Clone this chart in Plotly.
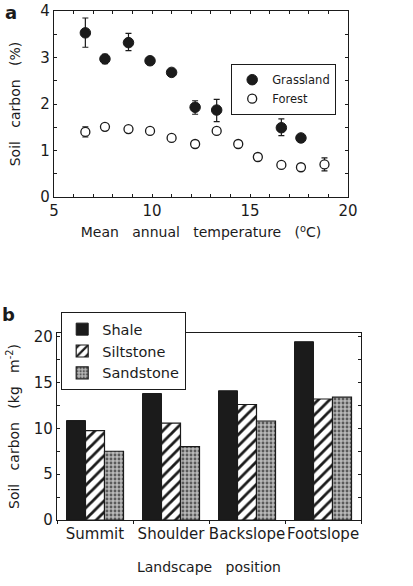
import plotly.graph_objects as go

# ---- Panel a data ----
temp_grass = [6.6, 7.6, 8.8, 9.9, 11.0, 12.2, 13.3, 16.6, 17.6]
carbon_grass = [3.53, 2.97, 3.32, 2.93, 2.68, 1.93, 1.87, 1.49, 1.27]
err_grass_up = [0.32, 0.10, 0.20, 0.08, 0.05, 0.14, 0.23, 0.19, 0.05]
err_grass_dn = [0.31, 0.10, 0.17, 0.08, 0.05, 0.15, 0.25, 0.17, 0.05]

temp_forest = [6.6, 7.6, 8.8, 9.9, 11.0, 12.2, 13.3, 14.4, 15.4, 16.6, 17.6, 18.8]
carbon_forest = [1.40, 1.51, 1.46, 1.42, 1.27, 1.14, 1.42, 1.14, 0.86, 0.69, 0.64, 0.70]
err_forest = [0.11, 0.0, 0.0, 0.0, 0.0, 0.0, 0.05, 0.07, 0.07, 0.0, 0.0, 0.14]

# ---- Panel b data ----
positions = ["Summit", "Shoulder", "Backslope", "Footslope"]
shale = [10.85, 13.8, 14.1, 19.45]
siltstone = [9.76, 10.57, 12.6, 13.2]
sandstone = [7.5, 8.0, 10.8, 13.4]

FONT = "DejaVu Sans"
INK = "#1b1b1b"
W, H = 413, 586
SP = "\u00a0\u00a0\u00a0"

def px_x(p):
    return p / W

def px_y(p):
    return 1 - p / H

fig = go.Figure()

fig.add_trace(go.Scatter(
    x=temp_grass, y=carbon_grass, mode="markers", name="Grassland",
    marker=dict(symbol="circle", size=10.5, color=INK, line=dict(color=INK, width=1)),
    error_y=dict(type="data", array=err_grass_up, arrayminus=err_grass_dn,
                 color=INK, thickness=1.2, width=3),
    xaxis="x", yaxis="y", legend="legend",
))
fig.add_trace(go.Scatter(
    x=temp_forest, y=carbon_forest, mode="markers", name="Forest",
    marker=dict(symbol="circle", size=9, color="white", line=dict(color=INK, width=1.3)),
    error_y=dict(type="data", array=err_forest, color=INK, thickness=1.2, width=3),
    xaxis="x", yaxis="y", legend="legend",
))

fig.add_trace(go.Bar(
    x=positions, y=shale, name="Shale",
    marker=dict(color=INK, line=dict(color=INK, width=1)),
    xaxis="x2", yaxis="y2", legend="legend2",
))
fig.add_trace(go.Bar(
    x=positions, y=siltstone, name="Siltstone",
    marker=dict(color="white", line=dict(color=INK, width=1.2),
                pattern=dict(shape="/", fgcolor=INK, bgcolor="white", size=8, solidity=0.35)),
    xaxis="x2", yaxis="y2", legend="legend2",
))
fig.add_trace(go.Bar(
    x=positions, y=sandstone, name="Sandstone",
    marker=dict(color="#a8a8a8", line=dict(color=INK, width=1.2),
                pattern=dict(shape=".", fgcolor="#5a5a5a", bgcolor="#b8b8b8", size=4, solidity=0.4)),
    xaxis="x2", yaxis="y2", legend="legend2",
))

axis_common = dict(showline=True, linecolor=INK, linewidth=1.3, showgrid=False, zeroline=False,
                   automargin=False,
                   tickfont=dict(family=FONT, size=15, color=INK), tickcolor=INK)
title_font = dict(family=FONT, size=14, color=INK)

fig.update_layout(
    template="none",
    width=W, height=H,
    margin=dict(l=0, r=0, t=0, b=0, pad=0, autoexpand=False),
    paper_bgcolor="white", plot_bgcolor="white",
    font=dict(family=FONT, color=INK),
    barmode="group", bargap=0.25, bargroupgap=0,
    xaxis=dict(domain=[px_x(54), px_x(348)], anchor="y", range=[5, 20], dtick=5, tick0=5,
               ticks="inside", ticklen=3, mirror="ticks",
               minor=dict(dtick=1, ticks="inside", ticklen=3, tickcolor=INK),
               title=dict(text="Mean" + SP + "annual" + SP + "temperature" + SP + "(<sup>o</sup>C)",
                          font=title_font, standoff=8),
               **axis_common),
    yaxis=dict(domain=[px_y(197), px_y(11)], anchor="x", range=[0, 4], dtick=1,
               ticks="inside", ticklen=3, mirror="ticks",
               minor=dict(dtick=0.5, ticks="inside", ticklen=3, tickcolor=INK),
               title=dict(text="Soil" + SP + "carbon" + SP + "(%)",
                          font=title_font, standoff=16),
               **axis_common),
    xaxis2=dict(domain=[px_x(57), px_x(361)], anchor="y2", type="category",
                ticks="outside", ticklen=3, tickson="boundaries", mirror=True, tickangle=0,
                title=dict(text="Landscape" + SP + "position",
                           font=title_font, standoff=20),
                **axis_common),
    yaxis2=dict(domain=[px_y(520), px_y(333)], anchor="x2", range=[0, 20.4], dtick=5,
                ticks="inside", ticklen=3, mirror="ticks",
                minor=dict(dtick=2.5, ticks="inside", ticklen=3, tickcolor=INK),
                title=dict(text="Soil" + SP + "carbon" + SP + "(kg" + SP + "m<sup>-2</sup>)",
                           font=title_font, standoff=10),
                **axis_common),
    legend=dict(x=px_x(231), y=px_y(64), xanchor="left", yanchor="top",
                bgcolor="white", bordercolor=INK, borderwidth=1.2,
                font=dict(family=FONT, size=11.5, color=INK), itemwidth=30),
    legend2=dict(x=px_x(61), y=px_y(312), xanchor="left", yanchor="top",
                 bgcolor="white", bordercolor=INK, borderwidth=1.2,
                 font=dict(family=FONT, size=14.5, color=INK), itemwidth=30),
    showlegend=True,
    annotations=[
        dict(text="<b>a</b>", x=px_x(3), y=px_y(0), xref="paper", yref="paper",
             xanchor="left", yanchor="top", showarrow=False,
             font=dict(family=FONT, size=18, color=INK)),
        dict(text="<b>b</b>", x=px_x(0), y=px_y(302), xref="paper", yref="paper",
             xanchor="left", yanchor="top", showarrow=False,
             font=dict(family=FONT, size=18, color=INK)),
    ],
)

fig.write_html("out.html", config={"displayModeBar": False},
               post_script="document.body.style.margin='0px';")
